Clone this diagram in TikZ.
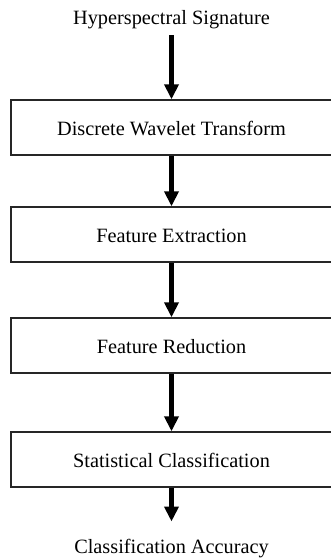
\documentclass[tikz,border=0pt]{standalone}
\usepackage{fontspec}
\setmainfont{Liberation Serif}
\usetikzlibrary{arrows.meta}
\begin{document}
\begin{tikzpicture}[x=1pt,y=-1pt,
  stepbox/.style={draw=black!85, line width=1.4pt, minimum width=321pt, minimum height=55pt,
    inner sep=0pt, text height=16pt, text depth=0pt, font=\fontsize{20.3}{24}\selectfont},
  endtext/.style={inner sep=0pt, anchor=base, font=\fontsize{20.3}{24}\selectfont},
  arr/.style={line width=4.5pt, -{Triangle[width=14pt,length=15pt]}}]
\useasboundingbox (0,0) rectangle (331,559);
\node[endtext] (in) at (171.5,25) {Hyperspectral Signature};
\node[stepbox] (b1) at (171.5,127.5) {Discrete Wavelet Transform};
\node[stepbox] (b2) at (171.5,234.5) {Feature Extraction};
\node[stepbox] (b3) at (171.5,345.5) {Feature Reduction};
\node[stepbox] (b4) at (171.5,459.5) {Statistical Classification};
\node[endtext] (out) at (171.5,553) {Classification Accuracy};
\draw[arr, shorten <=5.5pt] (in.south) -- (b1.north);
\draw[arr] (b1.south) -- (b2.north);
\draw[arr] (b2.south) -- (b3.north);
\draw[arr] (b3.south) -- (b4.north);
\draw[arr, shorten >=17pt] (b4.south) -- (out.north);
\end{tikzpicture}
\end{document}
